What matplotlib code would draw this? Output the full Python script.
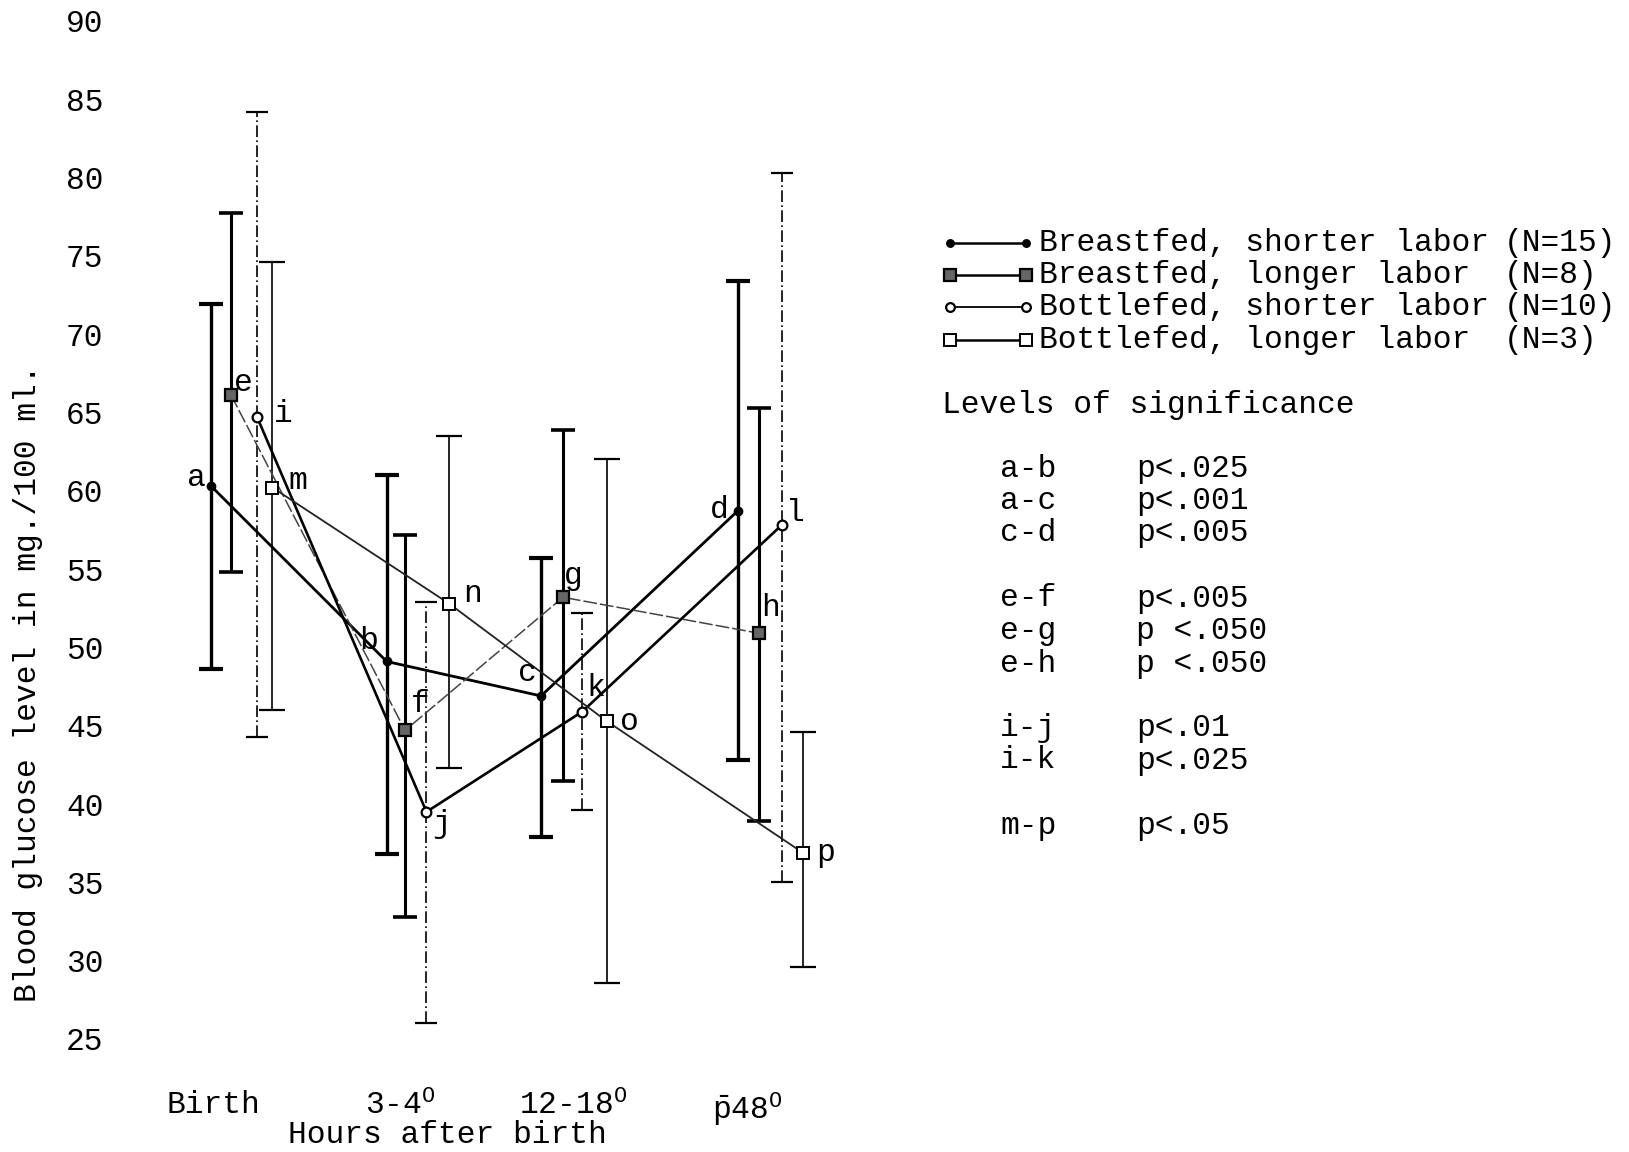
import matplotlib
matplotlib.use("Agg")
import matplotlib.pyplot as plt
from matplotlib.lines import Line2D

plt.rcParams['font.family'] = ['Liberation Mono', 'DejaVu Sans Mono']
plt.rcParams['mathtext.fontset'] = 'custom'
plt.rcParams['mathtext.rm'] = 'Liberation Mono'
plt.rcParams['mathtext.it'] = 'Liberation Mono'

# ---------------- data ----------------
categories = ["Birth", "3-4$^{\\mathrm{O}}$", "12-18$^{\\mathrm{O}}$", "$\\bar{\\mathrm{p}}$48$^{\\mathrm{O}}$"]
cat_pos = [0.0, 1.056, 2.034, 3.02]
yticks = [25, 30, 35, 40, 45, 50, 55, 60, 65, 70, 75, 80, 85, 90]

series_names = ["Breastfed, shorter labor", "Breastfed, longer labor",
                "Bottlefed, shorter labor", "Bottlefed, longer labor"]
series_n = ["(N=15)", "(N=8)", "(N=10)", "(N=3)"]

# x positions (hours-axis units, each series drawn slightly offset)
bs_x = [-0.011, 0.981, 1.853, 2.963]
bl_x = [0.102, 1.085, 1.977, 3.086]
bos_x = [0.249, 1.206, 2.086, 3.212]
bol_x = [0.336, 1.333, 2.223, 3.331]

bs_mean = [60.3, 49.1, 46.9, 58.7]
bs_low = [48.6, 36.8, 37.9, 42.8]
bs_high = [71.9, 61.0, 55.7, 73.4]

bl_mean = [66.1, 44.7, 53.2, 50.9]
bl_low = [54.8, 32.8, 41.5, 38.9]
bl_high = [77.7, 57.2, 63.9, 65.3]

bos_mean = [64.7, 39.5, 45.9, 57.8]
bos_low = [44.3, 26.0, 39.6, 35.0]
bos_high = [84.2, 52.9, 52.2, 80.3]

bol_mean = [60.2, 52.8, 45.3, 36.9]
bol_low = [46.0, 42.3, 28.6, 29.6]
bol_high = [74.6, 63.5, 62.0, 44.6]

bs_letters = ["a", "b", "c", "d"]
bl_letters = ["e", "f", "g", "h"]
bos_letters = ["i", "j", "k", "l"]
bol_letters = ["m", "n", "o", "p"]

sig_pairs = ["a-b", "a-c", "c-d", "e-f", "e-g", "e-h", "i-j", "i-k", "m-p"]
sig_vals = ["p<.025", "p<.001", "p<.005", "p<.005", "p <.050", "p <.050",
            "p<.01", "p<.025", "p<.05"]

# ---------------- figure ----------------
W, H = 1629, 1152
fig = plt.figure(figsize=(W / 100, H / 100), dpi=100)
fig.patch.set_facecolor("white")

left_px, right_px, top_px, bot_px = 130, 860, 20.8, 1039
ax = fig.add_axes([left_px / W, 1 - bot_px / H, (right_px - left_px) / W, (bot_px - top_px) / H])
ax.set_xlim(-0.469, 3.655)
ax.set_ylim(25, 90)
for s in ax.spines.values():
    s.set_visible(False)
ax.set_facecolor("none")

FS = 22.5

ax.set_yticks(yticks)
ax.set_yticklabels([str(v) for v in yticks], fontsize=FS)
ax.tick_params(axis="y", length=0, pad=19)
ax.set_xticks(cat_pos)
ax.set_xticklabels(categories, fontsize=FS)
ax.tick_params(axis="x", length=0, pad=37)

styles = [
    dict(x=bs_x, m=bs_mean, lo=bs_low, hi=bs_high, letters=bs_letters,
         line=dict(color="black", lw=2.0, ls="-"),
         err=dict(color="black", lw=2.4, ls="-", cap=8.5, capthick=3.0),
         mk=dict(marker="o", ms=6, mfc="black", mec="black", mew=1.0)),
    dict(x=bl_x, m=bl_mean, lo=bl_low, hi=bl_high, letters=bl_letters,
         line=dict(color="#444444", lw=1.1, ls=(0, (9, 2))),
         err=dict(color="black", lw=2.2, ls="-", cap=8.5, capthick=2.6),
         mk=dict(marker="s", ms=9, mfc="#666666", mec="black", mew=1.6)),
    dict(x=bos_x, m=bos_mean, lo=bos_low, hi=bos_high, letters=bos_letters,
         line=dict(color="black", lw=1.9, ls="-"),
         err=dict(color="black", lw=1.2, ls=(0, (7, 2, 1, 2)), cap=8.0, capthick=1.6),
         mk=dict(marker="o", ms=7, mfc="white", mec="black", mew=1.6)),
    dict(x=bol_x, m=bol_mean, lo=bol_low, hi=bol_high, letters=bol_letters,
         line=dict(color="#222222", lw=1.3, ls="-"),
         err=dict(color="black", lw=1.2, ls="-", cap=9.5, capthick=1.6),
         mk=dict(marker="s", ms=9, mfc="white", mec="black", mew=1.4)),
]

# label offsets in points (dx, dy) for each point letter
letter_offsets = [
    [(-10.8, 5.8), (-13, 15), (-10, 16.5), (-13, 0.7)],
    [(8.6, 8.6), (10.8, 18.7), (7.2, 15), (8, 18)],
    [(18.7, 2.2), (10.8, -8.6), (10, 17.3), (10, 8.6)],
    [(18, 5), (17.3, 7.2), (16.5, -0.7), (16.5, 0)],
]

for si, st in enumerate(styles):
    xs, ms, lo, hi = st["x"], st["m"], st["lo"], st["hi"]
    yerr = [[m - l for m, l in zip(ms, lo)], [h - m for m, h in zip(ms, hi)]]
    e = st["err"]
    eb = ax.errorbar(xs, ms, yerr=yerr, fmt="none", ecolor=e["color"], elinewidth=e["lw"],
                     capsize=e["cap"], capthick=e["capthick"], zorder=2, clip_on=False)
    for lc in eb[2]:
        lc.set_linestyle(e["ls"])
    ln = st["line"]
    ax.plot(xs, ms, color=ln["color"], lw=ln["lw"], ls=ln["ls"], zorder=3, clip_on=False)
    mk = st["mk"]
    ax.plot(xs, ms, ls="none", marker=mk["marker"], ms=mk["ms"], mfc=mk["mfc"],
            mec=mk["mec"], mew=mk["mew"], zorder=4, clip_on=False)
    for k, (xv, yv, lt) in enumerate(zip(xs, ms, st["letters"])):
        dx, dy = letter_offsets[si][k]
        ax.annotate(lt, (xv, yv), xytext=(dx, dy), textcoords="offset points",
                    ha="center", va="center", fontsize=FS, zorder=5)

# axis titles
fig.text(28 / W, 1 - 683 / H, "Blood glucose level in mg./100 ml.", rotation=90,
         ha="center", va="center", fontsize=FS)
fig.text(447 / W, 1 - 1135 / H, "Hours after birth", ha="center", va="center", fontsize=FS)

# legend (drawn manually)
leg_y = [243, 275.3, 307.5, 339.8]
for si, st in enumerate(styles):
    y = 1 - leg_y[si] / H
    mk = st["mk"]
    lw = 1.8 if si != 2 else 1.3
    fig.add_artist(Line2D([952 / W, 1024 / W], [y, y], color="black", lw=lw))
    for xp in (950 / W, 1026 / W):
        fig.add_artist(Line2D([xp], [y], ls="none", marker=mk["marker"],
                              ms=mk["ms"] * 0.9, mfc=mk["mfc"], mec=mk["mec"], mew=mk["mew"]))
    fig.text(1039 / W, y, series_names[si], ha="left", va="center", fontsize=FS)
    fig.text(1504 / W, y, series_n[si], ha="left", va="center", fontsize=FS)

fig.text(942 / W, 1 - 405 / H, "Levels of significance", ha="left", va="center", fontsize=FS)
sig_y = [468.6, 500.8, 533, 598.5, 630.7, 664, 728.3, 760.5, 826]
for pr, pv, yy in zip(sig_pairs, sig_vals, sig_y):
    fig.text(1000 / W, 1 - yy / H, pr, ha="left", va="center", fontsize=FS)
    fig.text(1136 / W, 1 - yy / H, pv, ha="left", va="center", fontsize=FS)

fig.savefig("out.png", dpi=100, facecolor="white")
